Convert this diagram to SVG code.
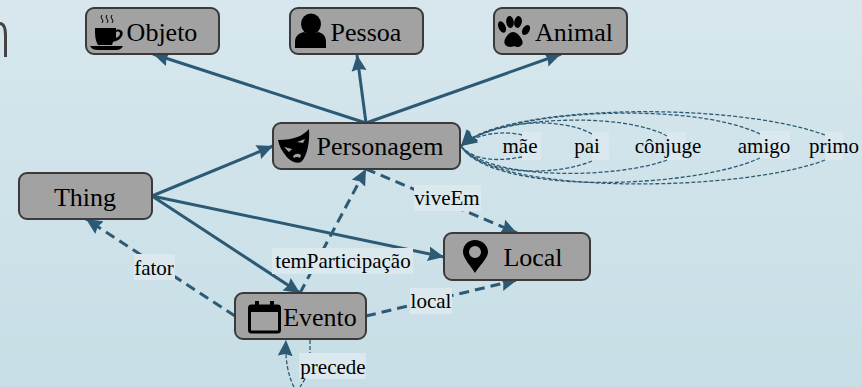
<svg xmlns="http://www.w3.org/2000/svg" width="862" height="387" viewBox="0 0 862 387">
<style>
.box{fill:#a2a2a2;stroke:#3a3a3a;stroke-width:2}
.nt{font-family:"Liberation Serif",serif;font-size:26px;fill:#000;text-anchor:middle}
.lt{font-family:"Liberation Serif",serif;font-size:21px;fill:#000;text-anchor:middle}
.lb{fill:#dbe9ee}
.s{fill:none;stroke:#2c5a74;stroke-width:3}
.d{fill:none;stroke:#2c5a74;stroke-width:3;stroke-dasharray:10 6}
.l{fill:none;stroke:#2c5a74;stroke-width:1.3;stroke-dasharray:4 2}
</style>
<defs>
<linearGradient id="bg" x1="0" y1="0" x2="0" y2="1"><stop offset="0" stop-color="#d7e7ed"/><stop offset="1" stop-color="#c7dee6"/></linearGradient>
<marker id="a" markerUnits="userSpaceOnUse" markerWidth="18" markerHeight="16" refX="16" refY="8" orient="auto"><path d="M0,0.5L16,8L0,15.5L2,8Z" fill="#2c5a74"/></marker>
</defs>
<rect width="862" height="387" fill="url(#bg)"/>
<path d="M0,23.500C4,23.500 5.500,29 5.500,36V57" fill="none" stroke="#444" stroke-width="3"/>
<g id="connectors">
<path class="s" marker-end="url(#a)" d="M366,123L153,54"/>
<path class="s" marker-end="url(#a)" d="M366,123L357,55"/>
<path class="s" marker-end="url(#a)" d="M366,123L561,54"/>
<path class="s" marker-end="url(#a)" d="M152,196L273,146"/>
<path class="s" marker-end="url(#a)" d="M152,196L444,257"/>
<path class="s" marker-end="url(#a)" d="M152,196L300,293"/>
<path class="d" marker-end="url(#a)" d="M300,293L366,169"/>
<path class="d" marker-end="url(#a)" d="M366,169L517,233"/>
<path class="d" marker-end="url(#a)" d="M235,316L86,219"/>
<path class="d" marker-end="url(#a)" d="M366,316L517,280"/>
<path class="l" marker-end="url(#a)" d="M522,135C505,131 480,132 461,146"/>
<path class="l" d="M522,157C500,161 475,162 461,146"/>
<path class="l" marker-end="url(#a)" d="M592,134C560,116 490,120 461,146"/>
<path class="l" d="M592,161C560,175 485,178 461,146"/>
<path class="l" marker-end="url(#a)" d="M667,136C625,112 495,115 461,146"/>
<path class="l" d="M667,160C620,178 490,182 461,146"/>
<path class="l" marker-end="url(#a)" d="M760,134C690,100 500,110 461,146"/>
<path class="l" d="M760,158C690,190 490,195 461,146"/>
<path class="l" marker-end="url(#a)" d="M825,135C730,100 500,105 461,146"/>
<path class="l" d="M825,160C740,193 490,195 461,146"/>
<path class="l" marker-end="url(#a)" d="M294,387C288,375 285,360 286,340"/>
<path class="l" d="M310,340V353M305,379L300,387"/>
</g>
<g id="Objeto"><rect class="box" x="86" y="8" width="133" height="46" rx="8"/>
<path d="M95,28H116V30C122,28 124,33 122,36C120,40 116,41 113,42L112,45H98C95,40 95,34 95,28ZM116,32V38C119,37 120,35 120,33C120,32 118,31 116,32ZM90,46H123C121,50 118,50 115,50H98C94,50 92,49 90,46Z" fill="#000"/>
<path d="M102,15q-2,2 0,4t0,4M107,15q-2,2 0,4t0,4M112,15q-2,2 0,4t0,4" fill="none" stroke="#000"/>
<text class="nt" x="162" y="41">Objeto</text></g>
<g id="Pessoa"><rect class="box" x="290" y="8" width="133" height="46" rx="8"/>
<ellipse cx="311" cy="24" rx="10" ry="10.5" fill="#000"/>
<path d="M295,42C295,36 299,33 304,32C308,34 314,34 318,32C323,33 326,36 326,42V48H295Z" fill="#000"/>
<text class="nt" x="366" y="41">Pessoa</text></g>
<g id="Animal"><rect class="box" x="494" y="8" width="133" height="46" rx="8"/>
<path d="M511,47C506,47 503,44 505,39C507,35 510,32 513,32C517,32 520,36 522,40C524,44 521,47 517,47C515,46 513,46 511,47Z" fill="#000"/>
<ellipse cx="502" cy="27" rx="3.5" ry="6" transform="rotate(-25 502 27)" fill="#000"/>
<ellipse cx="510" cy="22" rx="3.8" ry="6" transform="rotate(-8 510 22)" fill="#000"/>
<ellipse cx="518" cy="22" rx="3.8" ry="6" transform="rotate(12 518 22)" fill="#000"/>
<ellipse cx="526" cy="30" rx="3.5" ry="5.5" transform="rotate(30 526 30)" fill="#000"/>
<text class="nt" x="574" y="41">Animal</text></g>
<g id="Personagem"><rect class="box" x="273" y="123" width="187" height="46" rx="8"/>
<path d="M278,140C286,140 292,139 300,136C304,134 307,131 309,129C310,142 307,157 301,162C296,164 290,161 286,156C282,151 279,146 278,140Z" fill="#000"/>
<path d="M284,147l8,2l-3,3ZM297,142l8,-3l-2,4ZM293,156q4,-4 8,-1l-1,3q-3,-2 -6,0Z" fill="#a2a2a2"/>
<text class="nt" x="380" y="155">Personagem</text></g>
<g id="Thing"><rect class="box" x="19" y="173" width="133" height="46" rx="8"/>
<text class="nt" x="85" y="206">Thing</text></g>
<g id="Local"><rect class="box" x="444" y="233" width="146" height="47" rx="8"/>
<path fill-rule="evenodd" d="M475,273C470,265 463,258 463,252C463,245 468,240 475,240C482,240 488,245 488,252C488,258 480,265 475,273ZM475,246A6,6 0 1 0 475.01,258A6,6 0 1 0 475,246Z" fill="#000"/>
<text class="nt" x="533" y="266">Local</text></g>
<g id="Evento"><rect class="box" x="235" y="293" width="131" height="46" rx="8"/>
<rect x="249.500" y="306" width="30" height="26" rx="2" fill="none" stroke="#000" stroke-width="3"/>
<rect x="249" y="305" width="31" height="7" fill="#000"/>
<path d="M257,311V301M272,311V301" stroke="#000" stroke-width="4" fill="none"/>
<text class="nt" x="320" y="326">Evento</text></g>
<g id="labels">
<rect class="lb" x="414" y="185" width="67" height="26"/><text class="lt" x="447" y="205">viveEm</text>
<rect class="lb" x="134" y="254" width="41" height="26"/><text class="lt" x="154" y="275">fator</text>
<rect class="lb" x="272" y="248" width="141" height="26"/><text class="lt" x="343" y="268">temParticipação</text>
<rect class="lb" x="410" y="288" width="42" height="26"/><text class="lt" x="431" y="308">local</text>
<rect class="lb" x="299" y="353" width="67" height="26"/><text class="lt" x="333" y="374">precede</text>
<rect class="lb" x="522" y="132" width="19" height="28"/><text class="lt" x="520" y="153">mãe</text>
<rect class="lb" x="592" y="132" width="17" height="28"/><text class="lt" x="587" y="153">pai</text>
<rect class="lb" x="667" y="132" width="19" height="28"/><text class="lt" x="668" y="153">cônjuge</text>
<rect class="lb" x="760" y="131" width="30" height="28"/><text class="lt" x="764" y="153">amigo</text>
<rect class="lb" x="825" y="132" width="18" height="28"/><text class="lt" x="834" y="153">primo</text>
</g>
</svg>
